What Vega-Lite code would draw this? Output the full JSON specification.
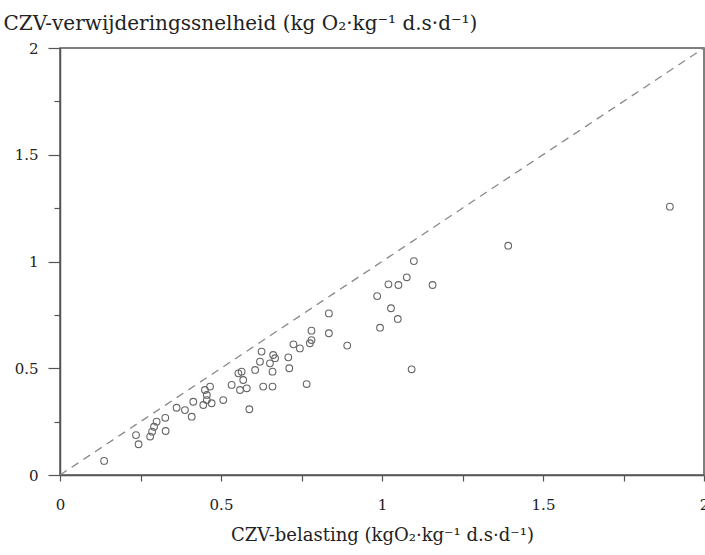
{
  "$schema": "https://vega.github.io/schema/vega-lite/v6.json",
  "autosize": "none",
  "width": 644,
  "height": 427,
  "padding": {"left": 60, "top": 48, "right": 1, "bottom": 80},
  "background": "white",
  "config": {
    "view": {"stroke": "#555", "strokeWidth": 1.5},
    "font": "DejaVu Serif",
    "axis": {
      "labelFont": "DejaVu Serif",
      "titleFont": "DejaVu Serif",
      "labelColor": "#222",
      "titleColor": "#222",
      "domainColor": "#555",
      "domainWidth": 1.5,
      "tickColor": "#555",
      "tickWidth": 1.2,
      "grid": false,
      "labelFontSize": 15,
      "titleFontSize": 18,
      "titleFontWeight": "normal",
      "format": "~g"
    }
  },
  "datasets": {
    "metingen": [
      {"belasting": 0.137, "verwijdering": 0.066},
      {"belasting": 0.236, "verwijdering": 0.187},
      {"belasting": 0.244, "verwijdering": 0.144},
      {"belasting": 0.280, "verwijdering": 0.180},
      {"belasting": 0.286, "verwijdering": 0.203},
      {"belasting": 0.292, "verwijdering": 0.226},
      {"belasting": 0.300, "verwijdering": 0.250},
      {"belasting": 0.327, "verwijdering": 0.268},
      {"belasting": 0.328, "verwijdering": 0.206},
      {"belasting": 0.362, "verwijdering": 0.315},
      {"belasting": 0.388, "verwijdering": 0.304},
      {"belasting": 0.409, "verwijdering": 0.273},
      {"belasting": 0.414, "verwijdering": 0.343},
      {"belasting": 0.445, "verwijdering": 0.328},
      {"belasting": 0.450, "verwijdering": 0.398},
      {"belasting": 0.456, "verwijdering": 0.375},
      {"belasting": 0.456, "verwijdering": 0.351},
      {"belasting": 0.466, "verwijdering": 0.414},
      {"belasting": 0.471, "verwijdering": 0.336},
      {"belasting": 0.507, "verwijdering": 0.351},
      {"belasting": 0.533, "verwijdering": 0.422},
      {"belasting": 0.554, "verwijdering": 0.476},
      {"belasting": 0.564, "verwijdering": 0.484},
      {"belasting": 0.569, "verwijdering": 0.445},
      {"belasting": 0.559, "verwijdering": 0.398},
      {"belasting": 0.580, "verwijdering": 0.406},
      {"belasting": 0.588, "verwijdering": 0.308},
      {"belasting": 0.606, "verwijdering": 0.492},
      {"belasting": 0.621, "verwijdering": 0.531},
      {"belasting": 0.626, "verwijdering": 0.578},
      {"belasting": 0.631, "verwijdering": 0.414},
      {"belasting": 0.652, "verwijdering": 0.523},
      {"belasting": 0.662, "verwijdering": 0.562},
      {"belasting": 0.660, "verwijdering": 0.484},
      {"belasting": 0.660, "verwijdering": 0.414},
      {"belasting": 0.668, "verwijdering": 0.547},
      {"belasting": 0.709, "verwijdering": 0.551},
      {"belasting": 0.712, "verwijdering": 0.500},
      {"belasting": 0.725, "verwijdering": 0.612},
      {"belasting": 0.745, "verwijdering": 0.593},
      {"belasting": 0.766, "verwijdering": 0.426},
      {"belasting": 0.776, "verwijdering": 0.617},
      {"belasting": 0.781, "verwijdering": 0.632},
      {"belasting": 0.781, "verwijdering": 0.676},
      {"belasting": 0.835, "verwijdering": 0.664},
      {"belasting": 0.835, "verwijdering": 0.757},
      {"belasting": 0.892, "verwijdering": 0.606},
      {"belasting": 0.985, "verwijdering": 0.838},
      {"belasting": 0.994, "verwijdering": 0.690},
      {"belasting": 1.020, "verwijdering": 0.893},
      {"belasting": 1.028, "verwijdering": 0.781},
      {"belasting": 1.049, "verwijdering": 0.731},
      {"belasting": 1.051, "verwijdering": 0.890},
      {"belasting": 1.077, "verwijdering": 0.926},
      {"belasting": 1.092, "verwijdering": 0.495},
      {"belasting": 1.099, "verwijdering": 1.002},
      {"belasting": 1.157, "verwijdering": 0.890},
      {"belasting": 1.392, "verwijdering": 1.074},
      {"belasting": 1.894, "verwijdering": 1.257}
    ],
    "diagonaal": [
      {"belasting": 0, "verwijdering": 0},
      {"belasting": 2, "verwijdering": 2}
    ]
  },
  "layer": [
    {
      "data": {"name": "diagonaal"},
      "mark": {"type": "line", "color": "#888", "strokeWidth": 1.3, "strokeDash": [8, 6], "clip": true},
      "encoding": {
        "x": {
          "field": "belasting",
          "type": "quantitative",
          "scale": {"domain": [0, 2], "nice": false},
          "axis": {
            "title": "CZV-belasting (kgO₂·kg⁻¹ d.s·d⁻¹)",
            "values": [0, 0.25, 0.5, 0.75, 1, 1.25, 1.5, 1.75, 2],
            "labelExpr": "datum.value % 0.5 === 0 ? datum.label : ''",
            "tickSize": 6,
            "labelPadding": 16,
            "titlePadding": 14,
            "labelFlush": false
          }
        },
        "y": {
          "field": "verwijdering",
          "type": "quantitative",
          "scale": {"domain": [0, 2], "nice": false},
          "axis": {
            "title": "CZV-verwijderingssnelheid (kg O₂·kg⁻¹ d.s·d⁻¹)",
            "titleAngle": 0,
            "titleAlign": "left",
            "titleBaseline": "alphabetic",
            "titleFontSize": 20,
            "titleX": -57,
            "titleY": -19,
            "values": [0, 0.25, 0.5, 0.75, 1, 1.25, 1.5, 1.75, 2],
            "labelExpr": "datum.value % 0.5 === 0 ? datum.label : ''",
            "tickSize": {"condition": {"test": "datum.value % 0.5 === 0", "value": 12}, "value": 6},
            "labelPadding": 10,
            "labelFlush": false
          }
        }
      }
    },
    {
      "data": {"name": "metingen"},
      "mark": {"type": "point", "shape": "circle", "filled": false, "size": 45, "stroke": "#666", "strokeWidth": 1.1, "opacity": 1},
      "encoding": {
        "x": {"field": "belasting", "type": "quantitative"},
        "y": {"field": "verwijdering", "type": "quantitative"}
      }
    }
  ]
}
